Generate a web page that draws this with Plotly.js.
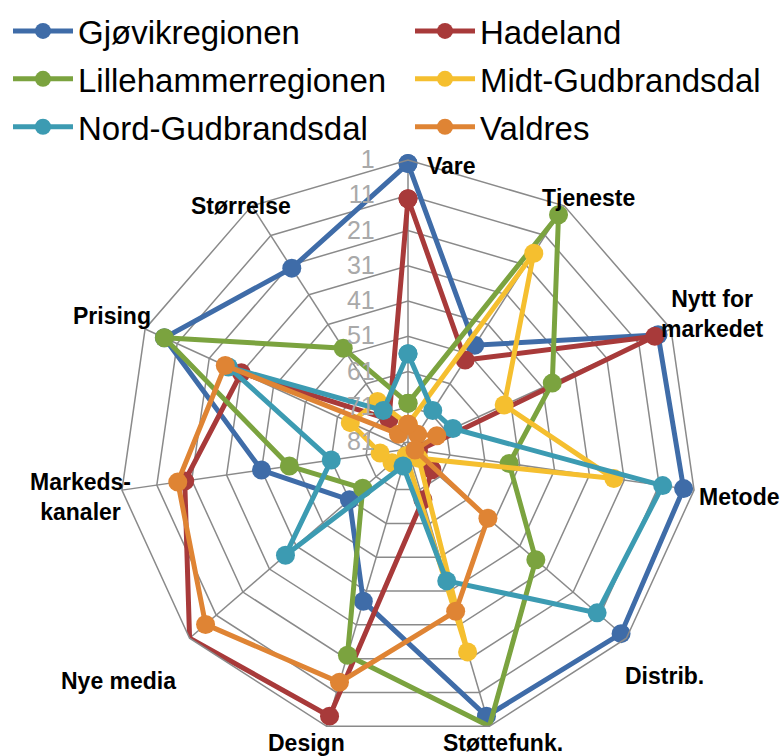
<!DOCTYPE html>
<html><head><meta charset="utf-8">
<script src="https://cdn.plot.ly/plotly-3.0.1.min.js"></script>
<style>html,body{margin:0;padding:0;background:#fff}</style>
</head><body><div id="chart" style="width:782px;height:756px"></div>
<script>
const categories = ["Vare","Tjeneste","Nytt for markedet","Metode","Distrib.","Støttefunk.","Design","Nye media","Markedskanaler","Prising","Størrelse"];
const seriesNames = ["Gjøvikregionen","Hadeland","Lillehammerregionen","Midt-Gudbrandsdal","Nord-Gudbrandsdal","Valdres"];
const gjovik      = [2, 48, 5, 4, 3, 4, 38, 61, 41, 7, 22];
const hadeland    = [12, 53, 6, 80, 74, 68, 4, 1, 19, 31, 73];
const lillehammer = [70, 4, 38, 54, 35, 1, 22, 66, 49, 7, 49];
const midtGudbr   = [76, 17, 53, 24, 79, 23, 81, 77, 75, 65, 67];
const nordGudbr   = [56, 70, 69, 10, 12, 44, 78, 37, 61, 27, 70];
const valdres     = [76, 78, 74, 81, 53, 35, 14, 7, 17, 26, 78];
const tickValues  = [1, 11, 21, 31, 41, 51, 61, 71, 81];
const categoryLabels = ["Vare","Tjeneste","Nytt for<br>markedet","Metode","Distrib.","Støttefunk.","Design","Nye media","Markeds-<br>kanaler","Prising","Størrelse"];

const colors = ["#3F6CA8","#A83A3A","#7BA33F","#F5BF2F","#3C9BB2","#DF8434"];
const allSeries = [gjovik, hadeland, lillehammer, midtGudbr, nordGudbr, valdres];

const traces = allSeries.map((vals, i) => ({
  type: "scatterpolar",
  name: seriesNames[i],
  r: vals.concat([vals[0]]),
  theta: categories.concat([categories[0]]),
  mode: "lines+markers",
  line: {color: colors[i], width: 5},
  marker: {color: colors[i], size: 19},
  legend: (i % 2 === 0) ? "legend" : "legend2",
  legendgroup: "g" + i,
  cliponaxis: false
}));

const W = 782, H = 756;
const cx = 408, cy = 449, R = 289;
const labelPos = [
  {x:425, y:166, xa:"left"},
  {x:540, y:198, xa:"left"},
  {x:712, y:314, xa:"center"},
  {x:697, y:497, xa:"left"},
  {x:623, y:676, xa:"left"},
  {x:441, y:743, xa:"left"},
  {x:347, y:743, xa:"right"},
  {x:178, y:681, xa:"right"},
  {x:80,  y:497, xa:"center"},
  {x:153, y:316, xa:"right"},
  {x:293, y:206, xa:"right"}
];
const annotations = categoryLabels.map((t, i) => ({
  xref: "paper", yref: "paper",
  x: labelPos[i].x / W, y: 1 - labelPos[i].y / H,
  xanchor: labelPos[i].xa, yanchor: "middle",
  text: "<b>" + t + "</b>", showarrow: false,
  align: "center",
  font: {family: "Liberation Sans, Arial, sans-serif", size: 23, color: "#000"}
}));

const legendFont = {family: "Liberation Sans, Arial, sans-serif", size: 33, color: "#000"};
const layout = {
  width: W, height: H,
  margin: {l:0, r:0, t:0, b:0},
  paper_bgcolor: "#fff",
  showlegend: true,
  legend: {
    orientation: "v", x: 8 / W, y: 1 - 3 / H, xanchor: "left", yanchor: "top",
    itemwidth: 60, tracegroupgap: 2, traceorder: "grouped",
    font: legendFont, bgcolor: "rgba(0,0,0,0)"
  },
  legend2: {
    orientation: "v", x: 410 / W, y: 1 - 3 / H, xanchor: "left", yanchor: "top",
    itemwidth: 60, tracegroupgap: 2, traceorder: "grouped",
    font: legendFont, bgcolor: "rgba(0,0,0,0)"
  },
  polar: {
    domain: {x: [(cx - R) / W, (cx + R) / W], y: [(H - cy - R) / H, (H - cy + R) / H]},
    bgcolor: "#fff",
    gridshape: "linear",
    radialaxis: {
      range: [83, 1],
      tickvals: tickValues,
      ticktext: tickValues.map(String),
      angle: 90,
      tickangle: 90,
      side: "counterclockwise",
      showline: false,
      ticks: "outside", ticklen: 24, tickcolor: "rgba(0,0,0,0)",
      gridcolor: "#8a8a8a", gridwidth: 1.5,
      tickfont: {family: "Liberation Sans, Arial, sans-serif", size: 25, color: "#a9a9a9"}
    },
    angularaxis: {
      rotation: 90, direction: "clockwise",
      categoryarray: categories, type: "category",
      showticklabels: false, ticks: "",
      gridcolor: "#8a8a8a", gridwidth: 1.5,
      showline: true, linecolor: "#8a8a8a", linewidth: 1.5
    }
  },
  annotations: annotations
};

Plotly.newPlot("chart", traces, layout, {displayModeBar: false, staticPlot: true});
</script>
</body></html>
